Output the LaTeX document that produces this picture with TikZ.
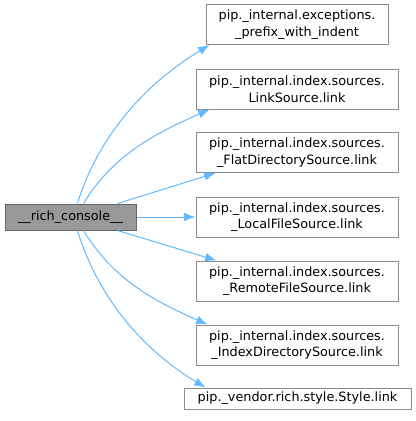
\documentclass[tikz,border=0pt]{standalone}
\usepackage{fontspec}
\setmainfont{DejaVu Sans}
\usetikzlibrary{arrows.meta, positioning}
\definecolor{edgeblue}{HTML}{63B8FF}
\definecolor{boxgray}{HTML}{8C8C8C}
\definecolor{rootline}{HTML}{666666}
\definecolor{rootfill}{HTML}{999999}

\begin{document}
\begin{tikzpicture}[x=0.75pt, y=-0.75pt,
		every node/.style={font=\fontsize{9.6}{12.4}\selectfont, align=center, inner sep=0pt, draw=boxgray, line width=0.75pt},
		callee/.style={fill=white, minimum width=151.5pt, minimum height=30pt},
		link/.style={draw=edgeblue, line width=0.75pt, -{Latex[length=8.5pt,width=6.5pt]}}]
		\useasboundingbox (0,0) rectangle (416,421);
		\node[fill=rootfill, draw=rootline, minimum width=98.25pt, minimum height=19.5pt] (r) at (70.5,217) {\_\_rich\_console\_\_};
		\node[callee, minimum width=136.5pt] (exc) at (297,24.5) {pip.\_internal.exceptions.\\\_prefix\_with\_indent};
		\node[callee] (ls) at (297,89) {pip.\_internal.index.sources.\\LinkSource.link};
		\node[callee] (fds) at (297,152.5) {pip.\_internal.index.sources.\\\_FlatDirectorySource.link};
		\node[callee] (lfs) at (297,217) {pip.\_internal.index.sources.\\\_LocalFileSource.link};
		\node[callee] (rfs) at (297,281) {pip.\_internal.index.sources.\\\_RemoteFileSource.link};
		\node[callee] (ids) at (297,345) {pip.\_internal.index.sources.\\\_IndexDirectorySource.link};
		\node[fill=white, minimum width=170.25pt, minimum height=15.75pt] (sty) at (297.5,398.5) {pip.\_vendor.rich.style.Style.link};
		\draw[link] (r.63) .. controls +(25,-80) and +(-50,30) .. ([xshift=3pt]exc.south west);
		\draw[link] (r.46) .. controls +(30,-50) and +(-50,22) .. ([xshift=10.5pt]ls.south west);
		\draw[link] (r.16) -- ([xshift=15pt]fds.south west);
		\draw[link] (r.east) -- (lfs.west);
		\draw[link] (r.-16) -- ([xshift=15.75pt]rfs.north west);
		\draw[link] (r.-46) .. controls +(30,50) and +(-50,-22) .. ([xshift=9pt]ids.north west);
		\draw[link] (r.-63) .. controls +(25,80) and +(-50,-30) .. ([xshift=16.5pt]sty.north west);
	\end{tikzpicture}
\end{document}
